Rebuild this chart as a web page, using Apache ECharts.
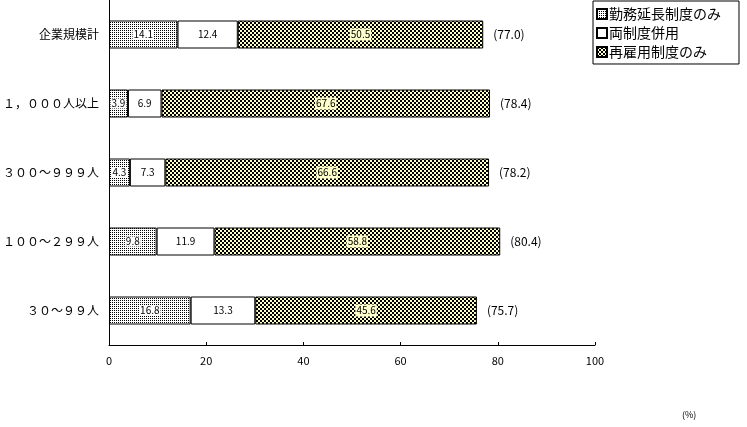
<!DOCTYPE html>
<html><head><meta charset="utf-8">
<script src="https://cdn.jsdelivr.net/npm/echarts@6/dist/echarts.min.js"></script>
<style>html,body{margin:0;padding:0;background:#fff}#c{width:747px;height:427px}</style>
</head><body><div id="c"></div>
<script>
const categories = ['企業規模計', '１，０００人以上', '３００～９９９人', '１００～２９９人', '３０～９９人'];
const seriesNames = ['勤務延長制度のみ', '両制度併用', '再雇用制度のみ'];
const kinmu = [14.1, 3.9, 4.3, 9.8, 16.8];
const ryou = [12.4, 6.9, 7.3, 11.9, 13.3];
const saikoyou = [50.5, 67.6, 66.6, 58.8, 45.6];
const totals = ['77.0', '78.4', '78.2', '80.4', '75.7'];
const xTicks = [0, 20, 40, 60, 80, 100];

function makePattern(kind) {
  const c = document.createElement('canvas');
  const ctx = c.getContext('2d');
  if (kind === 'dots') {
    c.width = 2; c.height = 2;
    ctx.fillStyle = '#ffffff'; ctx.fillRect(0, 0, 2, 2);
    ctx.fillStyle = '#000000'; ctx.fillRect(0, 0, 1, 1);
  } else {
    c.width = 4; c.height = 4;
    ctx.fillStyle = '#ffffcc'; ctx.fillRect(0, 0, 4, 4);
    ctx.fillStyle = '#000000'; ctx.fillRect(0, 0, 2, 2); ctx.fillRect(2, 2, 2, 2);
  }
  return { image: c, repeat: 'repeat' };
}

const font = '"Noto Sans CJK JP", sans-serif';
const chart = echarts.init(document.getElementById('c'), null, { renderer: 'canvas' });
const segLabel = (extra) => Object.assign({
  show: true, position: 'inside', color: '#000', fontSize: 10, fontFamily: font,
  formatter: p => p.value.toFixed(1)
}, extra || {});

chart.setOption({
  animation: false,
  backgroundColor: '#fff',
  grid: { left: 108, right: 152, top: -2, bottom: 82 },
  legend: {
    data: seriesNames,
    orient: 'vertical', left: 593, top: 1,
    borderColor: '#000', borderWidth: 1,
    padding: [6, 18, 5, 3], itemGap: 5,
    itemWidth: 10, itemHeight: 10, icon: 'rect',
    textStyle: { fontSize: 14, fontFamily: font, color: '#000', padding: [0, 0, 0, -3] }
  },
  xAxis: {
    type: 'value', min: 0, max: 100, interval: 20,
    axisLine: { show: true, lineStyle: { color: '#000', width: 1 } },
    axisTick: { show: true, inside: true, length: 3, lineStyle: { color: '#000' } },
    axisLabel: { color: '#000', fontSize: 11, fontFamily: font, margin: 10,
      formatter: v => xTicks.includes(v) ? String(v) : '' },
    splitLine: { show: false }
  },
  yAxis: {
    type: 'category', data: categories, inverse: true,
    axisLine: { show: true, lineStyle: { color: '#000', width: 1 } },
    axisTick: { show: false },
    axisLabel: { color: '#000', fontSize: 12, fontFamily: font, margin: 10 }
  },
  series: [
    { name: seriesNames[0], type: 'bar', stack: 'a', data: kinmu, barWidth: 28,
      itemStyle: { color: makePattern('dots'), borderColor: '#000', borderWidth: 1 },
      label: segLabel({ backgroundColor: '#fff', padding: [0, 1] }) },
    { name: seriesNames[1], type: 'bar', stack: 'a', data: ryou, barWidth: 28,
      itemStyle: { color: '#fff', borderColor: '#000', borderWidth: 1 },
      label: segLabel() },
    { name: seriesNames[2], type: 'bar', stack: 'a', data: saikoyou, barWidth: 28,
      itemStyle: { color: makePattern('checker'), borderColor: '#000', borderWidth: 1 },
      label: segLabel({ backgroundColor: '#ffffcc', padding: [1, 1] }) },
    { name: 'total', type: 'bar', stack: 'a', data: [0, 0, 0, 0, 0], barWidth: 28,
      itemStyle: { color: 'transparent' },
      label: { show: true, position: 'right', distance: 10, color: '#000', fontSize: 12,
        fontFamily: font, formatter: p => '(' + totals[p.dataIndex] + ')' } }
  ],
  graphic: [
    { type: 'text', left: 682, top: 410, style: { text: '(%)', fontSize: 9, fontFamily: font, fill: '#000' } }
  ]
});
</script></body></html>
